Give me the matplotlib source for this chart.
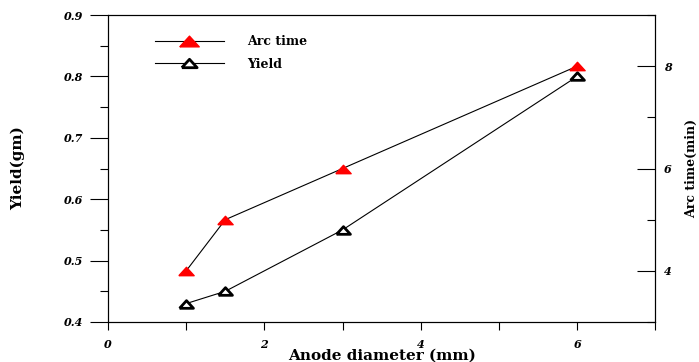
import matplotlib.pyplot as plt
from matplotlib.ticker import MultipleLocator
from matplotlib.lines import Line2D

# data
diameter = [1, 1.5, 3, 6]
arc_time = [4.0, 5.0, 6.0, 8.0]
yield_gm = [0.43, 0.45, 0.55, 0.80]

plt.rcParams['font.family'] = 'DejaVu Serif'
plt.rcParams['font.weight'] = 'bold'

# flat triangle like the original markers
tri = [(-1, -0.55), (1, -0.55), (0, 0.55), (-1, -0.55)]

fig = plt.figure(figsize=(6.99, 3.62), dpi=100)
ax = fig.add_axes([0.1545, 0.1105, 0.783, 0.848])
ax2 = ax.twinx()

ax.plot(diameter, yield_gm, color='black', lw=0.8, marker=tri, ms=10,
        mfc='white', mec='black', mew=2)
ax2.plot(diameter, arc_time, color='black', lw=0.8, marker=tri, ms=11,
         mfc='red', mec='red')

ax.set_xlim(0, 7)
ax.set_ylim(0.4, 0.9)
ax2.set_ylim(3, 9)

ax.xaxis.set_major_locator(MultipleLocator(2))
ax.xaxis.set_minor_locator(MultipleLocator(1))
ax.yaxis.set_major_locator(MultipleLocator(0.1))
ax.yaxis.set_minor_locator(MultipleLocator(0.05))
ax2.yaxis.set_major_locator(MultipleLocator(2))
ax2.yaxis.set_minor_locator(MultipleLocator(1))

ax.tick_params(axis='x', which='both', direction='out', length=6, width=0.8,
               top=False, pad=6)
ax.tick_params(axis='y', which='major', direction='out', length=13, width=0.8, pad=5)
ax.tick_params(axis='y', which='minor', direction='out', length=6, width=0.8)
ax2.tick_params(axis='y', which='major', direction='in', length=13, width=0.8, pad=6)
ax2.tick_params(axis='y', which='minor', direction='in', length=6, width=0.8)

ax.set_yticks([0.4, 0.5, 0.6, 0.7, 0.8, 0.9])
ax.set_yticklabels(['0.4', '0.5', '0.6', '0.7', '0.8', '0.9'])
for lab in ax.get_xticklabels() + ax.get_yticklabels() + ax2.get_yticklabels():
    lab.set_fontstyle('italic')
    lab.set_fontweight('bold')
    lab.set_fontsize(8)

ax.set_xlabel('Anode diameter (mm)', fontsize=11, fontweight='bold', labelpad=-1)
ax.set_ylabel('Yield(gm)', fontsize=11, fontweight='bold', labelpad=28)
ax2.set_ylabel('Arc time(min)', fontsize=9, fontweight='bold', labelpad=10)

handles = [
    Line2D([], [], color='black', lw=0.8, marker=tri, ms=14, mfc='red', mec='red'),
    Line2D([], [], color='black', lw=0.8, marker=tri, ms=11, mfc='white',
           mec='black', mew=2),
]
ax.legend(handles, ['Arc time', 'Yield'], loc='upper left', frameon=False,
          bbox_to_anchor=(0.065, 0.97), handlelength=5.5, handletextpad=1.9,
          labelspacing=0.75,
          prop={'family': 'DejaVu Serif', 'weight': 'bold', 'size': 9})

fig.savefig('out.png', dpi=100)
